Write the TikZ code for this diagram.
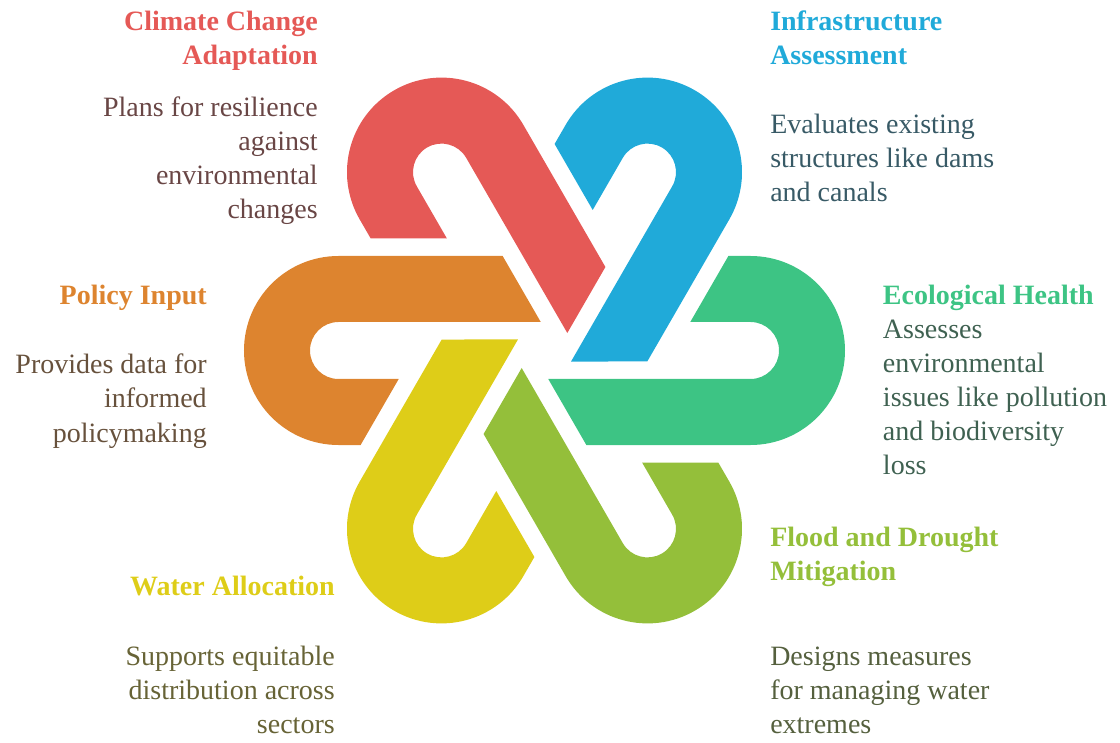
\documentclass[tikz,border=0pt]{standalone}
\usepackage{fontspec}
\setmainfont{Liberation Serif}

% Colours of the six loops
\definecolor{bandred}{HTML}{E55956}
\definecolor{bandblue}{HTML}{20AAD9}
\definecolor{bandgreen}{HTML}{3DC484}
\definecolor{bandlime}{HTML}{94BF3A}
\definecolor{bandyellow}{HTML}{DECD18}
\definecolor{bandorange}{HTML}{DD842F}

\begin{document}
\begin{tikzpicture}[
    x=0.75pt, y=0.75pt, % one unit is one pixel, origin in the middle of the knot
    % Styles for the labels
    topictitle/.style={font=\fontsize{21}{25.5}\selectfont\bfseries, inner sep=0pt},
    topictext/.style={font=\fontsize{21}{25.5}\selectfont, inner sep=0pt},
    leftside/.style={anchor=base east, align=right},  % labels left of the knot, anchored on the last line
    rightside/.style={anchor=base west, align=left}   % labels right of the knot, anchored on the last line
]

\useasboundingbox (-544.5,-391.5) rectangle (575.5,350.5);

% One hairpin loop, drawn opening to the right and then turned by the angle
\newcommand{\drawloop}[2]{
    \fill[#2, rotate=#1] (-41.86,94.5) -- (-206,94.5)
        arc[start angle=90, end angle=270, radius=94.5]
        -- (-183.89,-94.5) -- (-145.79,-28.5) -- (-206,-28.5)
        arc[start angle=270, end angle=90, radius=28.5]
        -- (-3.75,28.5) -- cycle;
}

% Title and description of one topic: name, side, title pos, text pos, colour, title, text
\newcommand{\addtopic}[7]{
    \node[topictitle, #2, text=#5] (#1-title) at (#3) {#6};
    \node[topictext, #2, text=#5!25!darkgray] (#1-text) at (#4) {#7};
}

% The six loops, one every 60 degrees
\drawloop{0}{bandorange};
\drawloop{-60}{bandred};
\drawloop{-120}{bandblue};
\drawloop{180}{bandgreen};
\drawloop{120}{bandlime};
\drawloop{60}{bandyellow};

% The labels round the knot
\addtopic{climate}{leftside}{-226.5,285.5}{-226.5,131.5}{bandred}{Climate Change\\Adaptation}{Plans for resilience\\against\\environmental\\changes};
\addtopic{infra}{rightside}{225.5,285.5}{225.5,148.5}{bandblue}{Infrastructure\\Assessment}{Evaluates existing\\structures like dams\\and canals};
\addtopic{policy}{leftside}{-337.5,45.5}{-337.5,-91.5}{bandorange}{Policy Input}{Provides data for\\informed\\policymaking};
\addtopic{eco}{rightside}{338.2,45.5}{338.2,-123.5}{bandgreen}{Ecological Health}{Assesses\\environmental\\issues like pollution\\and biodiversity\\loss};
\addtopic{water}{leftside}{-209.5,-244.5}{-209.5,-382.5}{bandyellow}{Water Allocation}{Supports equitable\\distribution across\\sectors};
\addtopic{flood}{rightside}{225.5,-229.5}{225.5,-382.5}{bandlime}{Flood and Drought\\Mitigation}{Designs measures\\for managing water\\extremes};

\end{tikzpicture}
\end{document}
